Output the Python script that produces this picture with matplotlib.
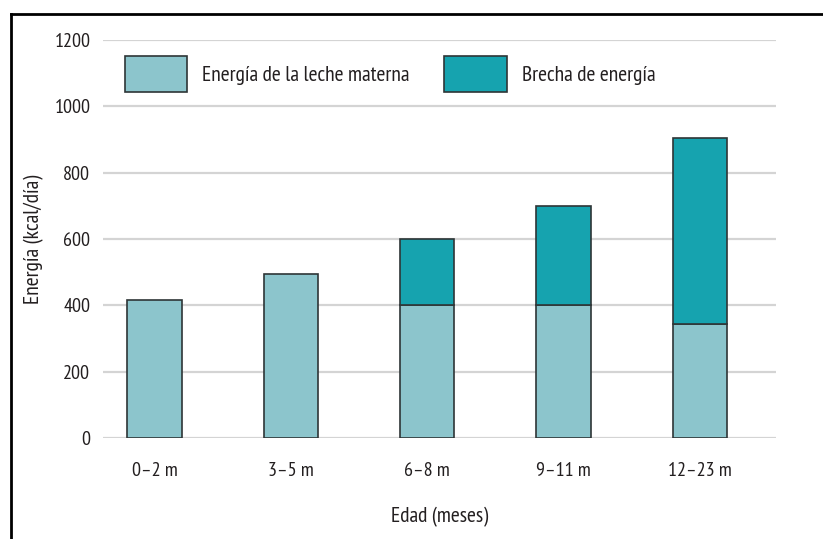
import matplotlib.pyplot as plt
from matplotlib.lines import Line2D
import numpy as np

# energy needs by age band (kcal/day)
edades = ['0–2 m', '3–5 m', '6–8 m', '9–11 m', '12–23 m']
leche = [415, 495, 400, 400, 345]
brecha = [0, 0, 200, 300, 560]

c_leche = '#8cc5cc'
c_brecha = '#16a3af'
c_borde = '#2e3536'
c_texto = '#231f20'

plt.rcParams['font.family'] = ['PT Sans Narrow', 'DejaVu Sans']
fs = 15.5
fs_tick = 14.5

fig = plt.figure(figsize=(8.23, 5.39), dpi=100)
ax = fig.add_axes([0.125, 0.1874, 0.818, 0.7384])

x = np.arange(len(edades))
ax.bar(x, leche, width=0.4, color=c_leche, edgecolor=c_borde, linewidth=1.2,
       label='Energía de la leche materna', zorder=3)
idx = [i for i, b in enumerate(brecha) if b > 0]
ax.bar(x[idx], [brecha[i] for i in idx], width=0.4,
       bottom=[leche[i] for i in idx], color=c_brecha, edgecolor=c_borde,
       linewidth=1.2, label='Brecha de energía', zorder=3)

ax.set_xlim(-0.38, 4.56)
ax.set_ylim(0, 1200)
ax.set_yticks(range(0, 1201, 200))
ax.set_xticks(x)
ax.set_xticklabels(edades)
ax.yaxis.grid(True, color='#d4d4d4', linewidth=1.6, zorder=0)
ax.tick_params(axis='both', length=0, labelsize=fs_tick, colors=c_texto)
ax.tick_params(axis='y', pad=9)
ax.tick_params(axis='x', pad=17)
for s in ax.spines.values():
    s.set_visible(False)

ax.set_xlabel('Edad (meses)', fontsize=fs, color=c_texto, labelpad=20)
ax.set_ylabel('Energía (kcal/día)', fontsize=fs, color=c_texto)
ax.yaxis.set_label_coords(-0.087, 0.5)

ax.legend(loc='upper left', bbox_to_anchor=(0.004, 1.008), ncol=2, frameon=False,
          fontsize=fs, handlelength=2.9, handleheight=2.2, handletextpad=0.7,
          columnspacing=1.6, labelcolor=c_texto)

# page frame around the figure
fig.add_artist(Line2D([11 / 823, 11 / 823], [0, 1 - 14 / 539], color='black',
                      linewidth=2, transform=fig.transFigure))
fig.add_artist(Line2D([11 / 823, 1], [1 - 14 / 539, 1 - 14 / 539], color='black',
                      linewidth=2, transform=fig.transFigure))

fig.savefig('out.png', dpi=100)
